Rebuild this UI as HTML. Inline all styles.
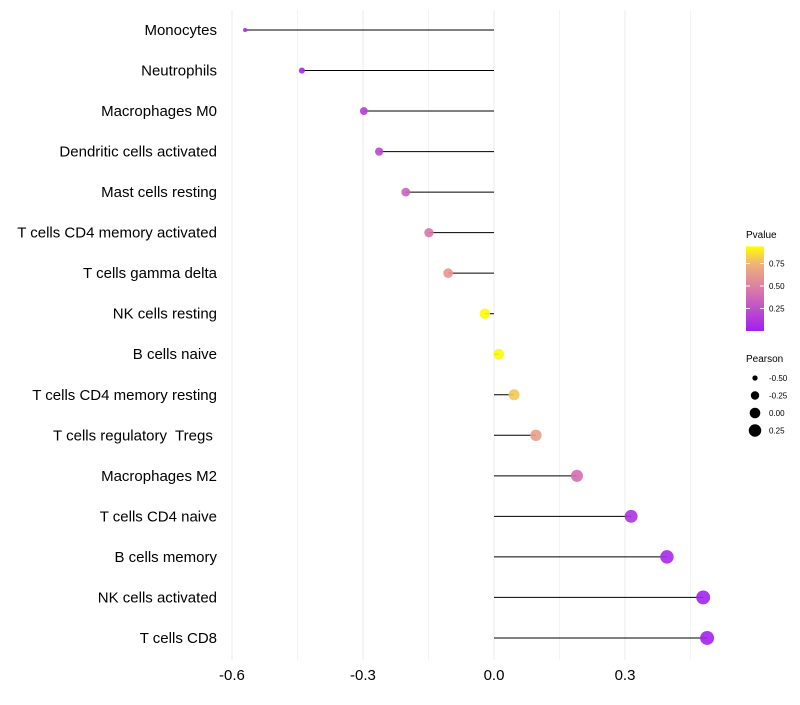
<!DOCTYPE html>
<html><head><meta charset="utf-8"><style>
body{margin:0;background:#fff;font-family:"Liberation Sans",sans-serif}
</style></head><body>
<svg id="c" width="800" height="700" xmlns="http://www.w3.org/2000/svg" font-family="Liberation Sans, sans-serif"></svg>
<script>
const categories=["Monocytes","Neutrophils","Macrophages M0","Dendritic cells activated","Mast cells resting","T cells CD4 memory activated","T cells gamma delta","NK cells resting","B cells naive","T cells CD4 memory resting","T cells regulatory  Tregs ","Macrophages M2","T cells CD4 naive","B cells memory","NK cells activated","T cells CD8"];
const pearson=[-0.570,-0.440,-0.298,-0.263,-0.202,-0.149,-0.105,-0.021,0.011,0.046,0.096,0.190,0.314,0.396,0.479,0.488];
const pvalues=[0.03,0.05,0.15,0.2,0.35,0.45,0.6,0.93,0.93,0.8,0.65,0.4,0.1,0.05,0.02,0.02];
const xTicks=[-0.6,-0.3,0.0,0.3];
const xTickLabels=["-0.6","-0.3","0.0","0.3"];
const xMinor=[-0.45,-0.15,0.15,0.45];
const pTicks=[0.25,0.5,0.75];
const sizeTicks=[-0.5,-0.25,0,0.25];
const sizeTickLabels=["-0.50","-0.25","0.00","0.25"];

const NS="http://www.w3.org/2000/svg",svg=document.getElementById('c');
const X=v=>494+v*436.7;
const Y=i=>30+i*40.53;
const R=v=>Math.sqrt(Math.max(1,28.2+42.5*v));
const stops=[[0,[160,32,240]],[0.45,[215,120,170]],[0.75,[240,180,120]],[0.94,[255,255,0]]];
function col(p){for(let k=1;k<stops.length;k++){if(p<=stops[k][0]||k==stops.length-1){const a=stops[k-1],b=stops[k];let t=Math.max(0,Math.min(1,(p-a[0])/(b[0]-a[0])));return 'rgb('+a[1].map((c,j)=>Math.round(c+(b[1][j]-c)*t)).join(',')+')';}}}
function el(t,a,txt){const e=document.createElementNS(NS,t);for(const k in a)e.setAttribute(k,a[k]);if(txt!=null)e.textContent=txt;svg.appendChild(e);return e;}
xMinor.forEach(v=>{const e=el('line',{x1:X(v),x2:X(v),y1:10,y2:660,stroke:'#f3f3f3','stroke-width':1});

});
xTicks.forEach((v,i)=>{const e=el('line',{x1:X(v),x2:X(v),y1:10,y2:660,stroke:'#ebebeb','stroke-width':1});


const t=el('text',{x:X(v),y:680,'text-anchor':'middle','font-size':15,fill:'#000'},xTickLabels[i]);

});
categories.forEach((c,i)=>{const t=el('text',{x:217,y:Y(i)+5,'text-anchor':'end','font-size':15,fill:'#000','xml:space':'preserve',style:'white-space:pre'},c);


const l=el('line',{x1:X(0),x2:X(pearson[i]),y1:Y(i),y2:Y(i),stroke:'#000','stroke-width':1});


const d=el('circle',{cx:X(pearson[i]),cy:Y(i),r:R(pearson[i]),fill:col(pvalues[i]),'fill-opacity':0.9});

});
// Pvalue legend
const lt=el('text',{x:746,y:238,'font-size':10},'Pvalue');


const defs=el('defs',{});const g=document.createElementNS(NS,'linearGradient');g.setAttribute('id','pg');g.setAttribute('x1','0');g.setAttribute('y1','1');g.setAttribute('x2','0');g.setAttribute('y2','0');defs.appendChild(g);
const PY=p=>331-p*90;
stops.forEach(s=>{const st=document.createElementNS(NS,'stop');st.setAttribute('offset',s[0]/0.94);st.setAttribute('stop-color',col(s[0]));g.appendChild(st);});
const cb=el('rect',{x:746,y:PY(0.94),width:18,height:PY(0)-PY(0.94),fill:'url(#pg)'});


pTicks.forEach(p=>{el('line',{x1:746,x2:750,y1:PY(p),y2:PY(p),stroke:'#fff'});el('line',{x1:760,x2:764,y1:PY(p),y2:PY(p),stroke:'#fff'});
const t=el('text',{x:769,y:PY(p)+3,'font-size':8},p.toFixed(2));

});
// Pearson legend
const st2=el('text',{x:746,y:362,'font-size':10},'Pearson');


sizeTicks.forEach((v,i)=>{const yy=378+i*17.5;const c=el('circle',{cx:755,cy:yy,r:R(v),fill:'#000'});


const t=el('text',{x:769,y:yy+3,'font-size':8},sizeTickLabels[i]);

});
</script>
</body></html>
